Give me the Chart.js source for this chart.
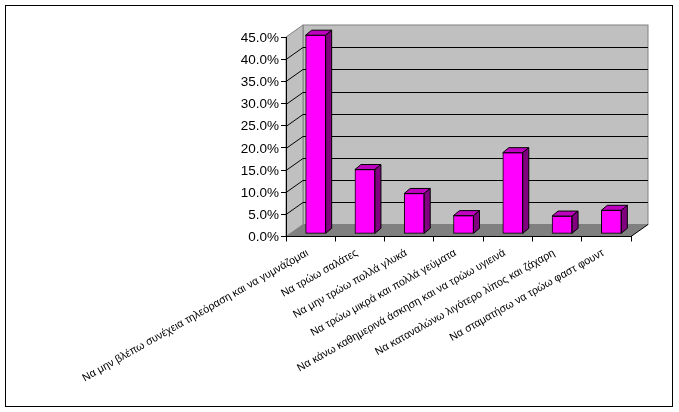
<!DOCTYPE html>
<html>
<head>
<meta charset="utf-8">
<style>
html, body { margin: 0; padding: 0; background: #fff; }
#wrap { position: relative; width: 679px; height: 412px; }
</style>
<script src="https://cdn.jsdelivr.net/npm/chart.js@4"></script>
</head>
<body>
<div id="wrap"><canvas id="myChart" width="679" height="412"></canvas></div>
<script>
const categories = [
    'Να μην βλέπω συνέχεια τηλεόραση και να γυμνάζομαι',
    'Να τρώω σαλάτες',
    'Να μην τρώω πολλά γλυκά',
    'Να τρώω μικρά και πολλά γεύματα',
    'Να κάνω καθημερινά άσκηση και να τρώω υγιεινά',
    'Να καταναλώνω λιγότερο λίπος και ζάχαρη',
    'Να σταματήσω να τρώω φαστ φουντ'
];
const percentValues = [44.8, 14.5, 9.1, 4.1, 18.3, 4.0, 5.3];
const yMax = 45;
const yStep = 5;

// how far the back wall sits behind the front axes
const wallDx = 17;
const wallDy = 12;
// bars stand in the middle of the floor
const barDx = 5;
const barDy = 2.7;
const barSideDx = 6;
const barSideDy = 5;

const walls3d = {
    id: 'walls3d',
    beforeDraw(chart) {
        const c = chart.ctx;
        const a = chart.chartArea;
        const y = chart.scales.y;
        c.save();
        c.fillStyle = '#fff';
        c.fillRect(0, 0, chart.width, chart.height);
        c.strokeStyle = '#000';
        c.lineWidth = 1;
        c.strokeRect(5.5, 5.5, 667, 401);

        // back wall
        c.fillStyle = '#c0c0c0';
        c.strokeStyle = '#808080';
        c.fillRect(a.left + wallDx, a.top - wallDy, a.width, a.height);
        c.strokeRect(a.left + wallDx, a.top - wallDy, a.width, a.height);
        // side wall
        c.beginPath();
        c.moveTo(a.left, a.top);
        c.lineTo(a.left + wallDx, a.top - wallDy);
        c.lineTo(a.left + wallDx, a.bottom - wallDy);
        c.lineTo(a.left, a.bottom);
        c.closePath();
        c.fill();
        c.stroke();
        // floor
        c.fillStyle = '#808080';
        c.beginPath();
        c.moveTo(a.left, a.bottom);
        c.lineTo(a.left + wallDx, a.bottom - wallDy);
        c.lineTo(a.right + wallDx, a.bottom - wallDy);
        c.lineTo(a.right, a.bottom);
        c.closePath();
        c.fill();

        // gridlines run across both walls
        c.strokeStyle = '#000';
        y.ticks.forEach(t => {
            if (t.value === 0 || t.value === yMax) return;
            const py = Math.round(y.getPixelForValue(t.value)) + 0.5;
            c.beginPath();
            c.moveTo(a.left, py);
            c.lineTo(a.left + wallDx, py - wallDy);
            c.lineTo(a.right + wallDx, py - wallDy);
            c.stroke();
        });
        // right edge of the floor
        c.beginPath();
        c.moveTo(a.right, a.bottom);
        c.lineTo(a.right + wallDx, a.bottom - wallDy);
        c.stroke();
        c.restore();
    },
    beforeDatasetDraw(chart) {
        chart.ctx.save();
        chart.ctx.translate(barDx, -barDy);
    },
    afterDatasetDraw(chart, args) {
        const c = chart.ctx;
        c.strokeStyle = '#000';
        c.lineWidth = 1;
        args.meta.data.forEach(bar => {
            const l = bar.x - bar.width / 2;
            const r = bar.x + bar.width / 2;
            const t = bar.y;
            const b = bar.base;
            // top face
            c.fillStyle = '#c000c0';
            c.beginPath();
            c.moveTo(l, t);
            c.lineTo(l + barSideDx, t - barSideDy);
            c.lineTo(r + barSideDx, t - barSideDy);
            c.lineTo(r, t);
            c.closePath();
            c.fill();
            c.stroke();
            // side face
            c.fillStyle = '#800080';
            c.beginPath();
            c.moveTo(r, t);
            c.lineTo(r + barSideDx, t - barSideDy);
            c.lineTo(r + barSideDx, b - barSideDy);
            c.lineTo(r, b);
            c.closePath();
            c.fill();
            c.stroke();
        });
        c.restore();
    }
};

new Chart(document.getElementById('myChart').getContext('2d'), {
    type: 'bar',
    data: {
        labels: categories,
        datasets: [{
            data: percentValues,
            backgroundColor: '#ff00ff',
            borderColor: '#000',
            borderWidth: 1,
            borderSkipped: false,
            barThickness: 20,
            clip: false
        }]
    },
    options: {
        responsive: false,
        animation: false,
        layout: { padding: { top: 37, right: 48, left: 0, bottom: 0 } },
        plugins: {
            legend: { display: false },
            tooltip: { enabled: false }
        },
        scales: {
            x: {
                afterFit(s) { s.height = 175.5; },
                border: { display: true, color: '#000' },
                grid: { drawOnChartArea: false, color: '#000', tickLength: 5 },
                ticks: {
                    autoSkip: false,
                    minRotation: 29.5,
                    maxRotation: 29.5,
                    color: '#000',
                    font: { family: 'Liberation Sans', size: 10.8 },
                    padding: 5,
                    labelOffset: -3
                }
            },
            y: {
                min: 0,
                max: yMax,
                afterFit(s) { s.width = 286; },
                border: { display: true, color: '#000' },
                grid: { drawOnChartArea: false, color: '#000', tickLength: 5 },
                ticks: {
                    stepSize: yStep,
                    color: '#000',
                    padding: 2,
                    labelOffset: 1,
                    font: { family: 'Liberation Sans', size: 13.5 },
                    callback: v => v.toFixed(1) + '%'
                }
            }
        }
    },
    plugins: [walls3d]
});
</script>
</body>
</html>
